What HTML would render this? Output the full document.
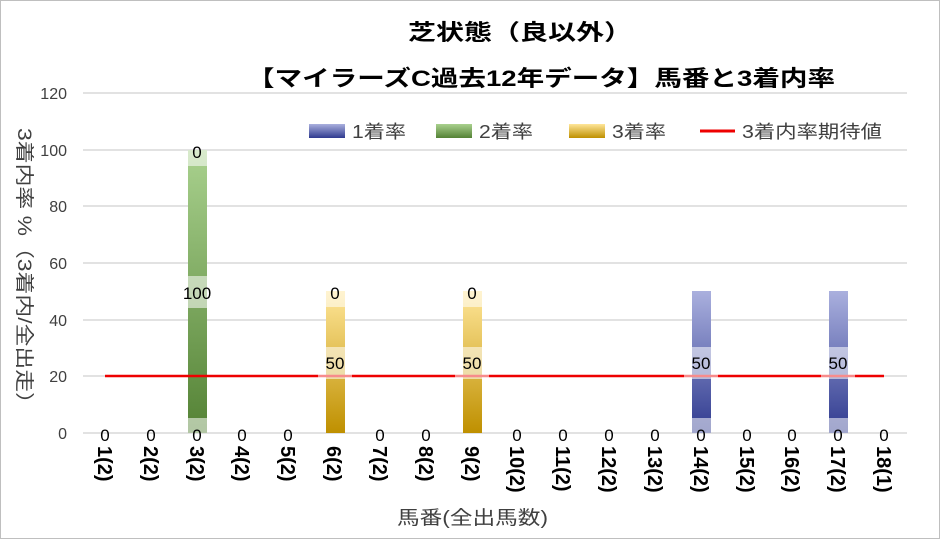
<!DOCTYPE html>
<html><head><meta charset="utf-8"><style>
body{margin:0;background:#fff}
svg{display:block;font-family:"Liberation Sans","Noto Sans CJK JP",sans-serif}
</style></head><body>
<svg width="940" height="539" viewBox="0 0 940 539">
<defs>
<linearGradient id="g" x1="0" y1="0" x2="0" y2="1"><stop offset="0" stop-color="#a9d18e"/><stop offset="1" stop-color="#548235"/></linearGradient>
<linearGradient id="o" x1="0" y1="0" x2="0" y2="1"><stop offset="0" stop-color="#ffe699"/><stop offset="1" stop-color="#bf9000"/></linearGradient>
<linearGradient id="b" x1="0" y1="0" x2="0" y2="1"><stop offset="0" stop-color="#aab0de"/><stop offset="1" stop-color="#2f3a8f"/></linearGradient>
</defs>
<rect x="0.5" y="0.5" width="939" height="538" fill="#fff" stroke="#bfbfbf"/>
<text x="408" y="40" font-size="22" font-weight="bold" textLength="224" lengthAdjust="spacingAndGlyphs">芝状態（良以外）</text>
<text x="247" y="86" font-size="22" font-weight="bold" textLength="588" lengthAdjust="spacingAndGlyphs">【マイラーズC過去12年データ】馬番と3着内率</text>
<g stroke="#d9d9d9" stroke-width="1.5">
<line x1="83" x2="907" y1="93" y2="93"/><line x1="83" x2="907" y1="150" y2="150"/><line x1="83" x2="907" y1="206" y2="206"/><line x1="83" x2="907" y1="263" y2="263"/><line x1="83" x2="907" y1="320" y2="320"/><line x1="83" x2="907" y1="376" y2="376"/><line x1="83" x2="907" y1="433" y2="433"/>
</g>
<g font-size="16" fill="#404040" text-anchor="end">
<text x="67" y="99">120</text><text x="67" y="156">100</text><text x="67" y="212">80</text><text x="67" y="269">60</text><text x="67" y="326">40</text><text x="67" y="382">20</text><text x="67" y="439">0</text>
</g>
<text transform="translate(18,128) rotate(90)" font-size="19" fill="#404040" textLength="287" lengthAdjust="spacingAndGlyphs">3着内率 %（3着内/全出走）</text>
<rect x="309" y="124" width="36" height="14" fill="url(#b)"/><text x="352" y="138" font-size="18" fill="#404040" textLength="54" lengthAdjust="spacingAndGlyphs">1着率</text>
<rect x="436" y="124" width="36" height="14" fill="url(#g)"/><text x="479" y="138" font-size="18" fill="#404040" textLength="54" lengthAdjust="spacingAndGlyphs">2着率</text>
<rect x="569" y="124" width="36" height="14" fill="url(#o)"/><text x="612" y="138" font-size="18" fill="#404040" textLength="54" lengthAdjust="spacingAndGlyphs">3着率</text>
<line x1="700" x2="735" y1="131" y2="131" stroke="#e00" stroke-width="3"/><text x="742" y="138" font-size="18" fill="#404040" textLength="140" lengthAdjust="spacingAndGlyphs">3着内率期待値</text>
<rect x="188" y="150" width="19" height="283" fill="url(#g)"/>
<rect x="326" y="291" width="19" height="142" fill="url(#o)"/>
<rect x="463" y="291" width="19" height="142" fill="url(#o)"/>
<rect x="692" y="291" width="19" height="142" fill="url(#b)"/>
<rect x="829" y="291" width="19" height="142" fill="url(#b)"/>
<line x1="105" x2="884" y1="376" y2="376" stroke="#e00" stroke-width="2.5"/>
<g fill="#fff" fill-opacity="0.55">
<rect x="188" y="150" width="19" height="16"/><rect x="182" y="276" width="31" height="32"/>
<rect x="326" y="291" width="19" height="16"/><rect x="318" y="347" width="34" height="32"/>
<rect x="463" y="291" width="19" height="16"/><rect x="455" y="347" width="34" height="32"/>
<rect x="684" y="347" width="34" height="32"/>
<rect x="821" y="347" width="34" height="32"/>
<rect x="188" y="418" width="19" height="15"/><rect x="692" y="418" width="19" height="15"/><rect x="829" y="418" width="19" height="15"/>
</g>
<g font-size="17" text-anchor="middle" fill="#000">
<text x="197" y="158">0</text><text x="197" y="299">100</text>
<text x="335" y="299">0</text><text x="335" y="369">50</text>
<text x="472" y="299">0</text><text x="472" y="369">50</text>
<text x="701" y="369">50</text><text x="838" y="369">50</text>
</g>
<g font-size="17" text-anchor="middle" fill="#000">
<text x="105" y="441">0</text><text x="151" y="441">0</text><text x="197" y="441">0</text><text x="242" y="441">0</text><text x="288" y="441">0</text>
<text x="380" y="441">0</text><text x="426" y="441">0</text><text x="517" y="441">0</text><text x="563" y="441">0</text><text x="609" y="441">0</text><text x="655" y="441">0</text><text x="701" y="441">0</text><text x="747" y="441">0</text><text x="792" y="441">0</text><text x="838" y="441">0</text><text x="884" y="441">0</text>
</g>
<g font-size="20" font-weight="bold" fill="#000">
<text transform="translate(98,446) rotate(90)">1(2)</text>
<text transform="translate(144,446) rotate(90)">2(2)</text>
<text transform="translate(190,446) rotate(90)">3(2)</text>
<text transform="translate(235,446) rotate(90)">4(2)</text>
<text transform="translate(281,446) rotate(90)">5(2)</text>
<text transform="translate(327,446) rotate(90)">6(2)</text>
<text transform="translate(373,446) rotate(90)">7(2)</text>
<text transform="translate(419,446) rotate(90)">8(2)</text>
<text transform="translate(465,446) rotate(90)">9(2)</text>
<text transform="translate(510,446) rotate(90)">10(2)</text>
<text transform="translate(556,446) rotate(90)">11(2)</text>
<text transform="translate(602,446) rotate(90)">12(2)</text>
<text transform="translate(648,446) rotate(90)">13(2)</text>
<text transform="translate(694,446) rotate(90)">14(2)</text>
<text transform="translate(740,446) rotate(90)">15(2)</text>
<text transform="translate(785,446) rotate(90)">16(2)</text>
<text transform="translate(831,446) rotate(90)">17(2)</text>
<text transform="translate(877,446) rotate(90)">18(1)</text>
</g>
<text x="397" y="524" font-size="19" fill="#404040" textLength="151" lengthAdjust="spacingAndGlyphs">馬番(全出馬数)</text>
</svg>
</body></html>
